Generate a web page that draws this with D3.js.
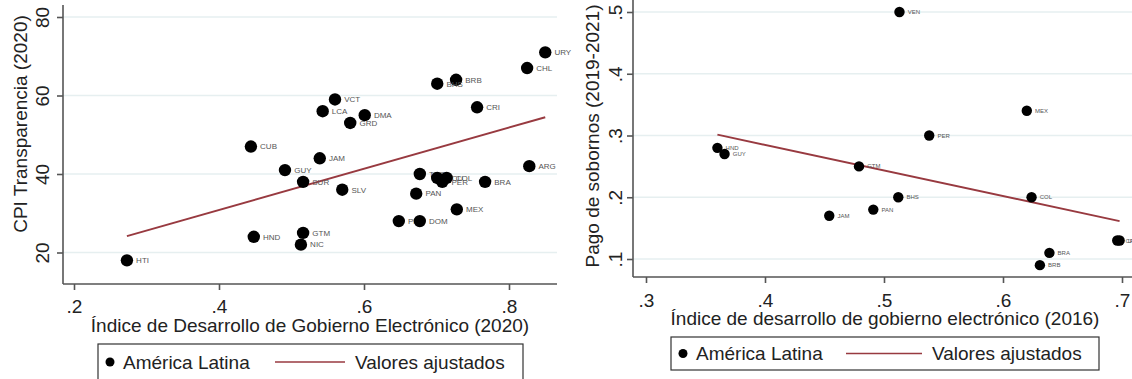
<!DOCTYPE html>
<html>
<head>
<meta charset="utf-8">
<script src="https://cdn.jsdelivr.net/npm/d3@7"></script>
<style>
  body { margin: 0; background: #fff; }
  svg { font-family: "Liberation Sans", Arial, sans-serif; }
  .grid line { stroke: #e6eff0; stroke-width: 1.3; }
  .axis path, .axis line { stroke: #555; stroke-width: 1.6; fill: none; }
  .tick text { fill: #222; font-size: 19px; }
  .lbl { fill: #555; }
</style>
</head>
<body>
<script>
var W = 1132, H = 379;

// Left panel: e-government index 2020 vs CPI 2020
var leftCodes = ["HTI","CUB","JAM","GUY","SUR","SLV","HND","GTM","NIC","VCT","LCA","GRD","DMA","BRB","BHS","URY","CHL","CRI","ARG","TTO","ECU","COL","PER","BRA","PAN","MEX","PRY","DOM"];
var leftX = [0.273,0.444,0.539,0.491,0.516,0.570,0.448,0.516,0.513,0.560,0.543,0.581,0.601,0.727,0.701,0.850,0.825,0.756,0.828,0.677,0.701,0.714,0.708,0.767,0.672,0.728,0.648,0.677];
var leftY = [18,47,44,41,38,36,24,25,22,59,56,53,55,64,63,71,67,57,42,40,39,39,38,38,35,31,28,28];
var leftXTicks = [0.2,0.4,0.6,0.8];
var leftYTicks = [20,40,60,80];

// Right panel: e-government index 2016 vs bribery 2019-2021
var rightCodes = ["HND","GUY","JAM","GTM","PAN","BHS","VEN","PER","MEX","COL","BRA","BRB","CRI","URY"];
var rightX = [0.360,0.366,0.454,0.479,0.491,0.512,0.513,0.538,0.620,0.624,0.639,0.631,0.696,0.698];
var rightY = [0.28,0.27,0.17,0.25,0.18,0.20,0.50,0.30,0.34,0.20,0.11,0.09,0.13,0.13];
var rightXTicks = [0.3,0.4,0.5,0.6,0.7];
var rightYTicks = [0.1,0.2,0.3,0.4,0.5];

var fitColor = "#983a40";

var svg = d3.select("body").append("svg")
	.attr("width", W)
	.attr("height", H);

function fmt(v) {
	// Stata style: drop leading zero
	return String(v).replace(/^0\./, ".");
}

function fitLine(xs, ys) {
	var mx = d3.mean(xs), my = d3.mean(ys);
	var sxy = d3.sum(xs, function(x, i) { return (x - mx) * (ys[i] - my); });
	var sxx = d3.sum(xs, function(x) { return (x - mx) * (x - mx); });
	var b = sxy / sxx;
	var x0 = d3.min(xs), x1 = d3.max(xs);
	return [[x0, my + b * (x0 - mx)], [x1, my + b * (x1 - mx)]];
}

drawPanel = function(p) {
	var g = svg.append("g");
	var x = d3.scaleLinear().domain(p.xDom).range(p.xRange);
	var y = d3.scaleLinear().domain(p.yDom).range(p.yRange);

	// Gridlines
	g.append("g").attr("class", "grid")
		.selectAll("line")
		.data(p.yTicks)
		.enter()
		.append("line")
			.attr("x1", p.left)
			.attr("x2", p.right)
			.attr("y1", function(d) { return y(d); })
			.attr("y2", function(d) { return y(d); });

	// Y axis, rotated tick labels
	var ya = g.append("g").attr("class", "axis")
		.attr("transform", "translate(" + p.left + ",0)")
		.call(d3.axisLeft(y).tickValues(p.yTicks).tickFormat(fmt).tickSize(6).tickSizeOuter(0));
	ya.select(".domain").attr("d", "M0," + p.top + "V" + p.bottom);
	ya.selectAll(".tick text")
		.attr("x", 0).attr("y", 0).attr("dy", "0.35em")
		.attr("text-anchor", "middle")
		.attr("transform", "translate(" + (p.yLabX - p.left) + ",0) rotate(-90)");

	// X axis
	var xa = g.append("g").attr("class", "axis")
		.attr("transform", "translate(0," + p.bottom + ")")
		.call(d3.axisBottom(x).tickValues(p.xTicks).tickFormat(fmt).tickSize(6).tickSizeOuter(0));
	xa.select(".domain").attr("d", "M" + p.left + ",0H" + p.right);
	xa.selectAll(".tick line").attr("y2", 6);
	xa.selectAll(".tick text").attr("y", p.xLabY - p.bottom).attr("dy", "0.35em");

	// Axis titles
	g.append("text")
		.attr("transform", "translate(" + p.yTitleX + "," + p.yTitleY + ") rotate(-90)")
		.attr("text-anchor", "middle")
		.attr("dy", "0.35em")
		.attr("font-size", 19)
		.attr("fill", "#222")
		.text(p.yTitle);
	g.append("text")
		.attr("x", p.xTitleX)
		.attr("y", p.xTitleY)
		.attr("text-anchor", "middle")
		.attr("dy", "0.35em")
		.attr("font-size", 19)
		.attr("fill", "#222")
		.text(p.xTitle);

	// Fitted values
	var f = fitLine(p.xs, p.ys);
	g.append("line")
		.attr("x1", x(f[0][0])).attr("y1", y(f[0][1]))
		.attr("x2", x(f[1][0])).attr("y2", y(f[1][1]))
		.attr("stroke", fitColor)
		.attr("stroke-width", 2);

	// Points
	var pts = g.append("g").selectAll("g")
		.data(p.codes)
		.enter()
		.append("g")
			.attr("transform", function(d, i) { return "translate(" + x(p.xs[i]) + "," + y(p.ys[i]) + ")"; });
	pts.append("circle")
		.attr("r", p.r)
		.attr("fill", "#000");
	pts.append("text")
		.attr("class", "lbl")
		.attr("x", p.r + 3)
		.attr("dy", "0.35em")
		.attr("font-size", p.lblSize)
		.text(function(d) { return d; });

	// Legend
	var lg = g.append("g");
	lg.append("rect")
		.attr("x", p.leg[0]).attr("y", p.leg[1])
		.attr("width", p.leg[2]).attr("height", p.leg[3])
		.attr("fill", "#fff").attr("stroke", "#333").attr("stroke-width", 1.2);
	var cy = p.leg[1] + p.leg[3] / 2;
	lg.append("circle").attr("cx", p.leg[0] + 12).attr("cy", cy).attr("r", 4.5).attr("fill", "#000");
	lg.append("text").attr("x", p.leg[0] + 25).attr("y", cy).attr("dy", "0.35em")
		.attr("font-size", 19).attr("fill", "#222").text("América Latina");
	lg.append("line")
		.attr("x1", p.legLine[0]).attr("x2", p.legLine[1])
		.attr("y1", cy).attr("y2", cy)
		.attr("stroke", fitColor).attr("stroke-width", 1.6);
	lg.append("text").attr("x", p.legLine[1] + 10).attr("y", cy).attr("dy", "0.35em")
		.attr("font-size", 19).attr("fill", "#222").text("Valores ajustados");
};

drawPanel({
	codes: leftCodes, xs: leftX, ys: leftY,
	xDom: [0.2, 0.8], xRange: [74, 509],
	yDom: [20, 80], yRange: [252.5, 17],
	xTicks: leftXTicks, yTicks: leftYTicks,
	left: 63, right: 557, top: 5, bottom: 284,
	yLabX: 42, xLabY: 306,
	yTitle: "CPI Transparencia (2020)", yTitleX: 20, yTitleY: 124,
	xTitle: "Índice de Desarrollo de Gobierno Electrónico (2020)", xTitleX: 310, xTitleY: 325,
	r: 6.2, lblSize: 8,
	leg: [98, 344, 425, 36], legLine: [275, 345]
});

drawPanel({
	codes: rightCodes, xs: rightX, ys: rightY,
	xDom: [0.3, 0.7], xRange: [646, 1122],
	yDom: [0.1, 0.5], yRange: [259, 12],
	xTicks: rightXTicks, yTicks: rightYTicks,
	left: 633, right: 1132, top: 0, bottom: 277,
	yLabX: 615, xLabY: 300,
	yTitle: "Pago de sobornos (2019-2021)", yTitleX: 592, yTitleY: 136,
	xTitle: "Índice de desarrollo de gobierno electrónico (2016)", xTitleX: 885, xTitleY: 318,
	r: 5.2, lblSize: 6,
	leg: [671, 337, 428, 33], legLine: [846, 922]
});
</script>
</body>
</html>
